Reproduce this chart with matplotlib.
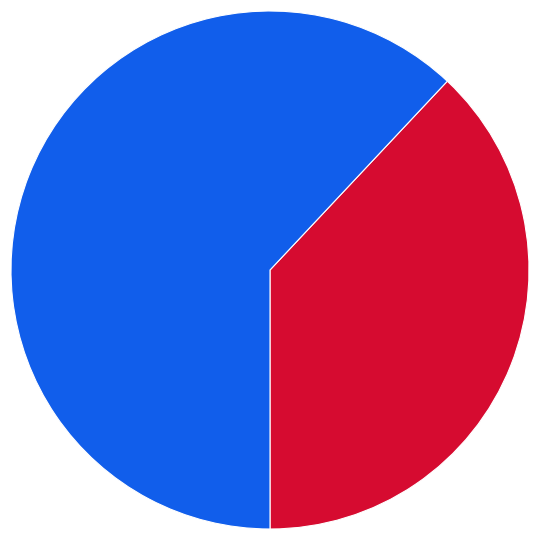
import matplotlib
matplotlib.use("Agg")
import matplotlib.pyplot as plt

# two-slice share split
labels = ["Red", "Blue"]
shares = [38, 62]
colors = ["#D60B30", "#115EEB"]

fig = plt.figure(figsize=(5.4, 5.4), dpi=100)
ax = fig.add_axes([0, 0, 1, 1])
ax.pie(shares, colors=colors, startangle=-90, counterclock=True,
       radius=1.0, center=(0, 0),
       wedgeprops=dict(edgecolor="white", linewidth=0.8))
lim = 270 / 259
ax.set_xlim(-lim, lim)
ax.set_ylim(-lim, lim)
ax.set_aspect("equal")
ax.axis("off")

fig.savefig("out.png", dpi=100, facecolor="white")
